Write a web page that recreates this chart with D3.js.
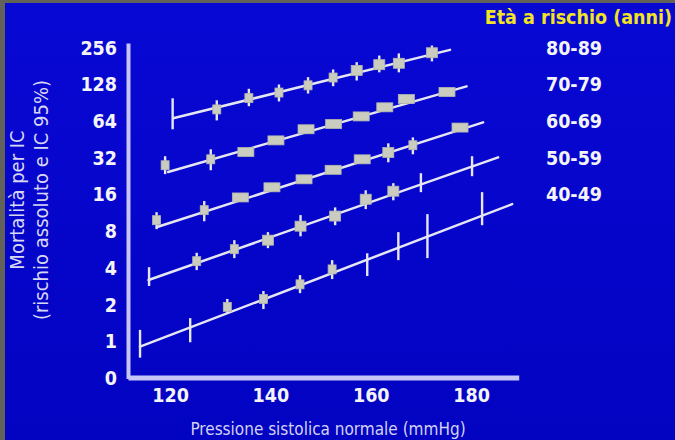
<!DOCTYPE html>
<html>
<head>
<meta charset="utf-8">
<script src="https://cdn.jsdelivr.net/npm/d3@7"></script>
<style>
body { margin: 0; background: #62625a; }
svg { display: block; }
text { font-family: "DejaVu Sans", Verdana, sans-serif; font-stretch: condensed; }
</style>
</head>
<body>
<div id="chart"></div>
<script>
let width = 675, height = 440;

// age groups, top line to bottom line
let ageGroups = ["80-89", "70-79", "60-69", "50-59", "40-49"];
let legendTitle = "Età a rischio (anni)";

let yTicks = [0.5, 1, 2, 4, 8, 16, 32, 64, 128, 256];
let yTickLabels = ["0", "1", "2", "4", "8", "16", "32", "64", "128", "256"];
let xTicks = [120, 140, 160, 180];

// usual systolic pressure (mmHg), mortality, 95% CI, weight (0 = CI only)
let sbp_80 = [120.5, 129.3, 135.7, 141.7, 147.5, 152.5, 157.2, 161.7, 165.6, 172.2];
let mort_80 = [67.6, 80, 99, 110, 126, 146, 167, 186, 191, 233];
let lo_80 = [55, 65, 85, 93, 108, 124, 138, 161, 161, 198];
let hi_80 = [98.6, 95, 118, 128, 147, 170, 195, 221, 230, 267];
let wt_80 = [0, 1, 1, 1, 1, 1, 2, 2, 2, 2];

let sbp_70 = [119.0, 128.1, 135.1, 141.1, 147.1, 152.6, 158.1, 162.8, 167.1, 175.2];
let mort_70 = [27.9, 31.2, 35.8, 44.6, 55.0, 60.7, 70.1, 83.2, 97.3, 111];
let lo_70 = [23.6, 25.4, 33.5, 41.7, 51.4, 56.7, 65.5, 77.8, 91, 104];
let hi_70 = [33.1, 37.7, 38.3, 47.7, 58.8, 64.9, 75, 89, 104, 119];
let wt_70 = [1, 1, 3, 3, 3, 3, 3, 3, 3, 3];

let sbp_60 = [117.3, 126.8, 134.0, 140.3, 146.7, 152.5, 158.3, 163.5, 168.4, 177.8];
let mort_60 = [9.9, 11.96, 15.2, 18.4, 21.4, 25.6, 31.2, 35.5, 40.7, 56.8];
let lo_60 = [8.36, 9.7, 14.2, 17.2, 20, 23.9, 29.2, 29.5, 34.3, 53.1];
let hi_60 = [11.5, 14.2, 16.3, 19.7, 22.9, 27.4, 33.4, 42.2, 47.2, 60.8];
let wt_60 = [1, 1, 3, 3, 3, 3, 3, 2, 1, 3];

let sbp_50 = [115.8, 125.3, 132.8, 139.5, 146.0, 152.9, 159.0, 164.5, 170.0, 180.2];
let mort_50 = [3.24, 4.57, 5.73, 6.79, 8.84, 10.7, 14.7, 17.1, 20.1, 27.1];
let lo_50 = [2.86, 3.86, 4.84, 5.84, 7.3, 9.0, 12.2, 14.4, 16.8, 22.7];
let hi_50 = [4.08, 5.35, 6.79, 7.9, 10.9, 12.6, 17.4, 19.9, 24.0, 33.1];
let wt_50 = [0, 1, 1, 2, 2, 2, 2, 2, 0, 0];

let sbp_40 = [114.0, 124.0, 131.4, 138.6, 145.9, 152.3, 159.3, 165.5, 171.3, 182.2];
let mort_40 = [0.91, 1.32, 1.93, 2.24, 2.95, 3.91, 4.7, 6.0, 7.47, 10.9];
let lo_40 = [0.74, 0.99, 1.72, 1.85, 2.5, 3.26, 3.45, 4.66, 4.84, 9.0];
let hi_40 = [1.25, 1.56, 2.24, 2.6, 3.51, 4.66, 5.3, 7.9, 11.1, 16.8];
let wt_40 = [0, 0, 1, 1, 1, 1, 0, 0, 0, 0];

// fitted lines (start, end)
let fitSbp = [[120.6, 175.8], [119.6, 179.1], [117.4, 182.4], [115.7, 185.4], [114.0, 188.2]];
let fitMort = [[67.6, 246], [24.6, 123.5], [8.7, 62.7], [3.2, 32.4], [0.91, 13.4]];

let groups = [
    [sbp_80, mort_80, lo_80, hi_80, wt_80],
    [sbp_70, mort_70, lo_70, hi_70, wt_70],
    [sbp_60, mort_60, lo_60, hi_60, wt_60],
    [sbp_50, mort_50, lo_50, hi_50, wt_50],
    [sbp_40, mort_40, lo_40, hi_40, wt_40]
].map((g, gi) => g[0].map((s, i) => ({
    group: gi, sbp: s, mort: g[1][i], lo: g[2][i], hi: g[3][i], wt: g[4][i]
})));

let svg = d3.select("#chart").append("svg")
    .attr("width", width)
    .attr("height", height);

let defs = svg.append("defs");
let grad = defs.append("linearGradient")
    .attr("id", "bg").attr("x1", 0).attr("y1", 0).attr("x2", 0).attr("y2", 1);
grad.append("stop").attr("offset", "0%").attr("stop-color", "#0808d4");
grad.append("stop").attr("offset", "100%").attr("stop-color", "#0303c2");

svg.append("rect").attr("width", width).attr("height", height).attr("fill", "#62625a");
svg.append("rect").attr("x", 5).attr("y", 3)
    .attr("width", width - 5).attr("height", height - 3)
    .attr("fill", "url(#bg)");

var x = d3.scaleLinear()
    .domain([111.6, 189.5])
    .range([128, 518.7]);

var y = d3.scaleLog().base(2)
    .domain([0.5, 280])
    .range([378.45, 43]);

let axisColor = "#c6c6f6";

let yAxis = svg.append("g")
    .attr("transform", "translate(128,0)")
    .call(d3.axisLeft(y)
        .tickValues(yTicks)
        .tickFormat((d, i) => yTickLabels[i])
        .tickSize(0)
        .tickPadding(11));

let xAxis = svg.append("g")
    .attr("transform", "translate(0,377.5)")
    .call(d3.axisBottom(x)
        .tickValues(xTicks)
        .tickFormat(d3.format("d"))
        .tickSize(0)
        .tickPadding(11));

yAxis.select(".domain").attr("stroke", axisColor).attr("stroke-width", 4);
xAxis.select(".domain").attr("stroke", axisColor).attr("stroke-width", 5);
svg.selectAll(".tick text")
    .attr("fill", "#f4f4f8")
    .attr("font-size", 19.5)
    .attr("font-weight", "bold")
    .attr("font-family", null);

let lineColor = "#e6e6f2";

// fitted lines
svg.append("g").selectAll("line")
    .data(fitSbp)
    .join("line")
    .attr("x1", (d) => x(d[0]))
    .attr("x2", (d) => x(d[1]))
    .attr("y1", (d, i) => y(fitMort[i][0]))
    .attr("y2", (d, i) => y(fitMort[i][1]))
    .attr("stroke", lineColor)
    .attr("stroke-width", 2.5)
    .attr("stroke-linecap", "round");

let pts = groups.flat();

// confidence intervals
svg.append("g").selectAll("line")
    .data(pts)
    .join("line")
    .attr("x1", (d) => x(d.sbp))
    .attr("x2", (d) => x(d.sbp))
    .attr("y1", (d) => y(d.lo))
    .attr("y2", (d) => y(d.hi))
    .attr("stroke", lineColor)
    .attr("stroke-width", 2.4);

let boxW = d3.scaleOrdinal().domain([1, 2, 3]).range([8, 11, 16]);
let boxH = d3.scaleOrdinal().domain([1, 2, 3]).range([9, 10, 9]);

svg.append("g").selectAll("rect")
    .data(pts.filter((d) => d.wt > 0))
    .join("rect")
    .attr("x", (d) => x(d.sbp) - boxW(d.wt) / 2)
    .attr("y", (d) => y(d.mort) - boxH(d.wt) / 2)
    .attr("width", (d) => boxW(d.wt))
    .attr("height", (d) => boxH(d.wt))
    .attr("fill", "#c9ccbe")
    .attr("stroke", "#b4b7aa")
    .attr("stroke-width", 0.8);

// legend
svg.append("text")
    .attr("x", 672)
    .attr("y", 17)
    .attr("dy", "0.35em")
    .attr("text-anchor", "end")
    .attr("fill", "#f2e424")
    .attr("font-size", 19.5)
    .attr("font-weight", "bold")
    .text(legendTitle);

svg.append("g").selectAll("text")
    .data(ageGroups)
    .join("text")
    .attr("x", 574)
    .attr("y", (d, i) => 47.7 + i * 36.7)
    .attr("dy", "0.35em")
    .attr("text-anchor", "middle")
    .attr("fill", "#f4f4f8")
    .attr("font-size", 19.5)
    .attr("font-weight", "bold")
    .text((d) => d);

// axis titles
svg.append("text")
    .attr("x", 328)
    .attr("y", 429)
    .attr("dy", "0.35em")
    .attr("text-anchor", "middle")
    .attr("fill", "#d2d2f2")
    .attr("font-size", 17)
    .text("Pressione sistolica normale (mmHg)");

let yTitle = svg.append("text")
    .attr("transform", "translate(17,200) rotate(-90)")
    .attr("text-anchor", "middle")
    .attr("fill", "#d8d8f4")
    .attr("font-size", 20);
yTitle.append("tspan").attr("x", 0).attr("dy", "0.35em").text("Mortalità per IC");
yTitle.append("tspan").attr("x", 0).attr("dy", "1.2em").text("(rischio assoluto e IC 95%)");
</script>
</body>
</html>
